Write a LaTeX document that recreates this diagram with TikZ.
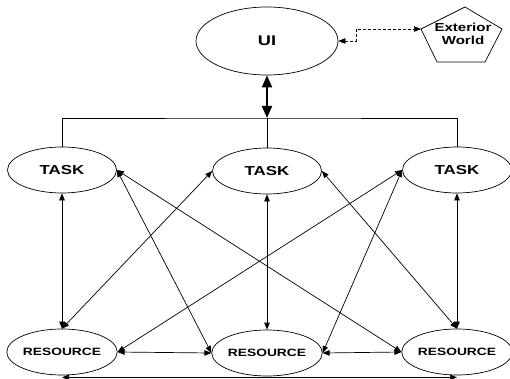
\documentclass[tikz,border=0pt]{standalone}
\usepackage{fontspec}
\newfontfamily\boxfont[FakeStretch=1.3]{Liberation Sans}
\usetikzlibrary{arrows.meta,shapes.geometric}

\begin{document}
\begin{tikzpicture}[x=1pt, y=-1pt, >={Triangle[length=7pt,width=5.5pt]},
    box/.style={draw, ellipse, inner sep=0pt, line width=0.7pt},
    taskbox/.style={box, minimum width=109pt, minimum height=46pt, font=\boxfont\bfseries\fontsize{13}{15}\selectfont},
    resbox/.style={box, minimum width=109pt, minimum height=46pt, font=\boxfont\bfseries\fontsize{10.6}{12}\selectfont},
    link/.style={<->, line width=0.7pt}]
        \useasboundingbox (0,0) rectangle (510,379);

        % interface and the outside world
        \node[box, minimum width=142pt, minimum height=68pt, font=\boxfont\bfseries\fontsize{14}{16}\selectfont] (ui) at (267,41) {UI};
        \draw[line width=0.7pt] (465,7) -- (502,29) -- (485,62) -- (437,62) -- (421,29) -- cycle;
        \coordinate (world-w) at (421,29);
        \node[align=center, inner sep=0pt, font=\boxfont\bfseries\fontsize{11.6}{13}\selectfont] (world) at (463,34) {Exterior\\World};
        \draw[link, dash pattern=on 3pt off 2pt] (ui.east) -- ++(18,0) |- (world-w);

        % tasks
        \node[taskbox] (task1) at (62,170) {TASK};
        \node[taskbox] (task2) at (267,171) {TASK};
        \node[taskbox] (task3) at (457,170) {TASK};

        % resources
        \node[resbox] (res1) at (62,352) {RESOURCE};
        \node[resbox] (res2) at (267,353) {RESOURCE};
        \node[resbox] (res3) at (457,352) {RESOURCE};

        % bus from the interface to the tasks
        \coordinate (bus) at (267,118);
        \draw[<->, line width=1.8pt, >={Triangle[length=12pt,width=10pt]}] (ui.south) -- (bus);
        \draw[line width=0.7pt] (task1.north) |- (bus) -| (task3.north);
        \draw[line width=0.7pt] (task2.north) -- (bus);

        % task <-> resource
        \draw[link] (task1.south) -- (res1.north);
        \draw[link] (task2.south) -- (res2.north);
        \draw[link] (task3.south) -- (res3.north);
        \draw[link] (task1.east) -- (res2.west);
        \draw[link] (task1.east) -- (res3.west);
        \draw[link] (task2.west) -- (res1.north);
        \draw[link] (task2.east) -- (res3.north);
        \draw[link] (task3.west) -- (res1.east);
        \draw[link] (task3.west) -- (res2.east);

        % resource <-> resource
        \draw[link] (res1.east) -- (res2.west);
        \draw[link] (res2.east) -- (res3.west);
        \draw[link] ([yshift=-2pt]res1.south) -- ([yshift=-2pt]res3.south);
\end{tikzpicture}
\end{document}
